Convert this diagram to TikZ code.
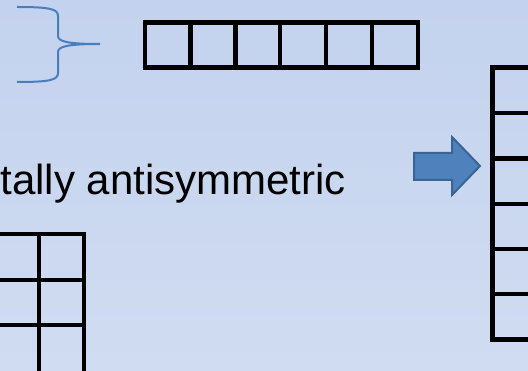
\documentclass[tikz,border=0pt]{standalone}
\usepackage{fontspec}
\setmainfont{Liberation Sans}
\definecolor{bgtop}{HTML}{C3D2EE}
\definecolor{bgbot}{HTML}{D0DCF1}
\definecolor{bracec}{HTML}{4A7EBB}
\definecolor{arrowfill}{HTML}{4F81BD}
\definecolor{arrowline}{HTML}{3A6494}
\tikzset{
  cellline/.style={line width=4.6pt, black, line cap=rect, line join=miter},
  bracestyle/.style={line width=2pt, bracec},
  arrowshape/.style={fill=arrowfill, draw=arrowline, line width=2pt, line join=miter},
  label/.style={inner sep=0pt, font=\fontsize{42}{50}\selectfont}
}
\begin{document}
\begin{tikzpicture}[x=1pt,y=-1pt]
\useasboundingbox (0,0) rectangle (528,371);
\clip (0,0) rectangle (528,371);
\shade[top color=bgtop, bottom color=bgbot] (0,0) rectangle (528,371);
% brace
\coordinate (bt) at (17,7);
\coordinate (bb) at (17,82);
\coordinate (tip) at (100,44);
\draw[bracestyle] (bt) .. controls (50,7) and (58,9) .. (58,16) -- (58,36)
  .. controls (58,42) and (70,44) .. (tip)
  .. controls (70,44) and (58,46) .. (58,52) -- (58,73)
  .. controls (58,80) and (50,82) .. (bb);
% top row
\draw[cellline] (145,22.5) rectangle (418,67.5);
\foreach \x in {190.5,235.5,280,326,372} \draw[cellline] (\x,22.5) -- (\x,67.5);
% right column
\draw[cellline] (538,67.5) -- (492.5,67.5) -- (492.5,339.5) -- (538,339.5);
\foreach \y in {113,158.5,204,249,294} \draw[cellline] (492.5,\y) -- (538,\y);
% bottom-left grid
\draw[cellline] (-6,234) -- (84,234) -- (84,380);
\foreach \y in {280,325} \draw[cellline] (-6,\y) -- (84,\y);
\draw[cellline] (39,234) -- (39,380);
% arrow
\draw[arrowshape] (414,153) -- (452,153) -- (452,137) -- (480,166) -- (452,195) -- (452,180) -- (414,180) -- cycle;
% text
\node[label, anchor=base east] (txt) at (346,195) {tally antisymmetric};
\end{tikzpicture}
\end{document}
